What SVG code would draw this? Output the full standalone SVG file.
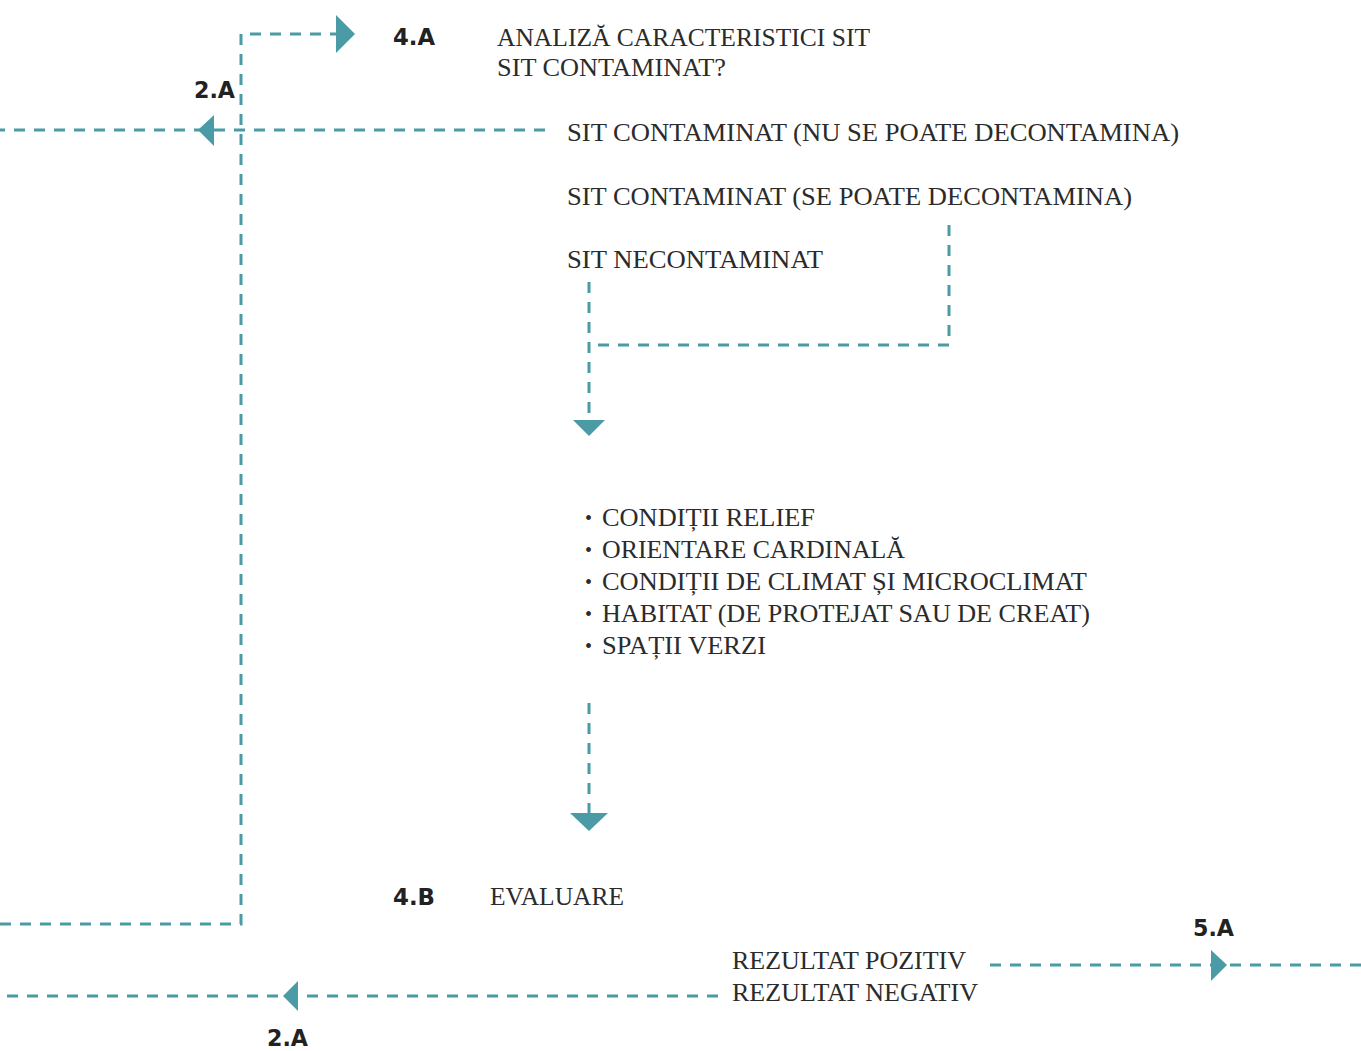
<svg xmlns="http://www.w3.org/2000/svg" width="1361" height="1051" viewBox="0 0 1361 1051">
<style>
.ln{fill:none;stroke:#4a9ba6;stroke-width:3;stroke-dasharray:11 9}
.ah{fill:#4a9ba6}
.t{font-family:"Liberation Serif","DejaVu Serif",serif;font-size:25.5px;fill:#2b2b2b}
.bu{font-family:"Liberation Serif",serif;font-size:20px;fill:#2b2b2b}
.b{font-family:"DejaVu Sans","Liberation Sans",sans-serif;font-weight:bold;font-size:23px;fill:#222}
</style>
<rect width="1361" height="1051" fill="#fff"/>
<g id="connectors">
<path class="ln" d="M0 924 H241 V34 H338"/>
<polygon class="ah" points="336,15 355,34 336,53"/>
<path class="ln" d="M545 130 H0"/>
<polygon class="ah" points="198,130 214,115 214,146"/>
<path class="ln" d="M949 225 V345 H589"/>
<path class="ln" d="M589 282 V420"/>
<polygon class="ah" points="573,420 605,420 589,436"/>
<path class="ln" d="M589 703 V815"/>
<polygon class="ah" points="570,813 608,813 589,831"/>
<path class="ln" d="M718 996 H0"/>
<polygon class="ah" points="283,996 298,981 298,1011"/>
<path class="ln" d="M990 965 H1361"/>
<polygon class="ah" points="1227,965 1211,950 1211,981"/>
</g>
<g id="label-2A-top"><text class="b" x="194" y="98" textLength="41" lengthAdjust="spacingAndGlyphs">2.A</text></g>
<g id="node-4A">
<text class="b" x="393" y="45" textLength="42" lengthAdjust="spacingAndGlyphs">4.A</text>
<text class="t" x="497" y="46" textLength="373" lengthAdjust="spacingAndGlyphs">ANALIZĂ CARACTERISTICI SIT</text>
<text class="t" x="497" y="76" textLength="229" lengthAdjust="spacingAndGlyphs">SIT CONTAMINAT?</text>
</g>
<g id="opt-nu"><text class="t" x="567" y="141" textLength="612" lengthAdjust="spacingAndGlyphs">SIT CONTAMINAT (NU SE POATE DECONTAMINA)</text></g>
<g id="opt-se"><text class="t" x="567" y="205" textLength="565" lengthAdjust="spacingAndGlyphs">SIT CONTAMINAT (SE POATE DECONTAMINA)</text></g>
<g id="opt-necont"><text class="t" x="567" y="268" textLength="256" lengthAdjust="spacingAndGlyphs">SIT NECONTAMINAT</text></g>
<g id="list">
<text class="bu" x="585" y="525">•</text>
<text class="t" x="602" y="526" textLength="213" lengthAdjust="spacingAndGlyphs">CONDIȚII RELIEF</text>
<text class="bu" x="585" y="557">•</text>
<text class="t" x="602" y="558" textLength="303" lengthAdjust="spacingAndGlyphs">ORIENTARE CARDINALĂ</text>
<text class="bu" x="585" y="589">•</text>
<text class="t" x="602" y="590" textLength="485" lengthAdjust="spacingAndGlyphs">CONDIȚII DE CLIMAT ȘI MICROCLIMAT</text>
<text class="bu" x="585" y="621">•</text>
<text class="t" x="602" y="622" textLength="488" lengthAdjust="spacingAndGlyphs">HABITAT (DE PROTEJAT SAU DE CREAT)</text>
<text class="bu" x="585" y="653">•</text>
<text class="t" x="602" y="654" textLength="164" lengthAdjust="spacingAndGlyphs">SPAȚII VERZI</text>
</g>
<g id="node-4B">
<text class="b" x="393" y="905" textLength="42" lengthAdjust="spacingAndGlyphs">4.B</text>
<text class="t" x="490" y="905" textLength="134" lengthAdjust="spacingAndGlyphs">EVALUARE</text>
</g>
<g id="opt-poz"><text class="t" x="732" y="969" textLength="234" lengthAdjust="spacingAndGlyphs">REZULTAT POZITIV</text></g>
<g id="opt-neg"><text class="t" x="732" y="1001" textLength="246" lengthAdjust="spacingAndGlyphs">REZULTAT NEGATIV</text></g>
<g id="label-5A"><text class="b" x="1193" y="936" textLength="41" lengthAdjust="spacingAndGlyphs">5.A</text></g>
<g id="label-2A-bottom"><text class="b" x="267" y="1046" textLength="41" lengthAdjust="spacingAndGlyphs">2.A</text></g>
</svg>
